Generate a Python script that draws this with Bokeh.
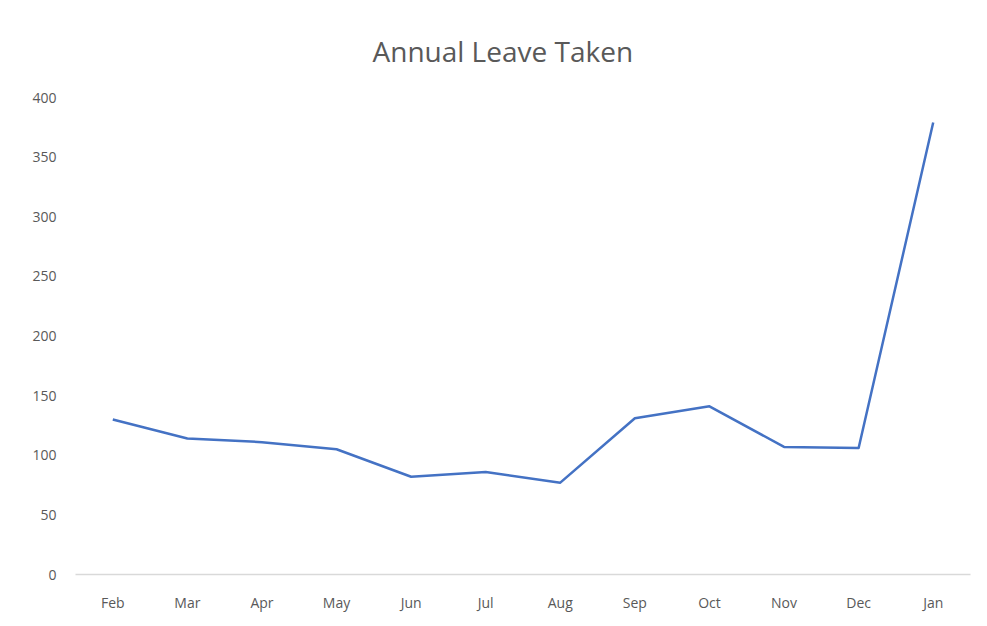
from bokeh.plotting import figure
from bokeh.models import Range1d, FactorRange
from bokeh.embed import file_html
from bokeh.resources import INLINE

chart_title = "Annual Leave Taken"
months = ["Feb", "Mar", "Apr", "May", "Jun", "Jul", "Aug", "Sep", "Oct", "Nov", "Dec", "Jan"]
leave_taken = [130, 114, 111, 105, 82, 86, 77, 131, 141, 107, 106, 379]
y_ticks = [0, 50, 100, 150, 200, 250, 300, 350, 400]

p = figure(width=987, height=626, x_range=FactorRange(*months), y_range=Range1d(0, 400),
           output_backend="svg", toolbar_location=None,
           min_border_left=75, min_border_right=17, min_border_top=97, min_border_bottom=52)

p.title.text = chart_title
p.title.align = "left"
p.title.offset = 297
p.title.text_font = "Open Sans"
p.title.text_font_size = "28px"
p.title.text_font_style = "normal"
p.title.text_color = "#595959"
p.title.standoff = 55

p.line(x=months, y=leave_taken, line_color="#4472C4", line_width=2.5, line_join="round")

p.xgrid.visible = False
p.ygrid.visible = False
p.outline_line_color = None

p.yaxis.ticker = y_ticks
p.yaxis.axis_line_color = None
p.yaxis.major_tick_line_color = None
p.yaxis.minor_tick_line_color = None
p.yaxis.major_label_text_font = "Open Sans"
p.yaxis.major_label_text_font_size = "14px"
p.yaxis.major_label_text_color = "#595959"
p.yaxis.major_label_standoff = 13

p.xaxis.axis_line_color = "#d9d9d9"
p.xaxis.axis_line_width = 1.5
p.xaxis.major_tick_line_color = None
p.xaxis.minor_tick_line_color = None
p.xaxis.major_label_text_font = "Open Sans"
p.xaxis.major_label_text_font_size = "14px"
p.xaxis.major_label_text_color = "#595959"
p.xaxis.major_label_standoff = 12

open("out.html", "w").write(file_html(p, INLINE))
